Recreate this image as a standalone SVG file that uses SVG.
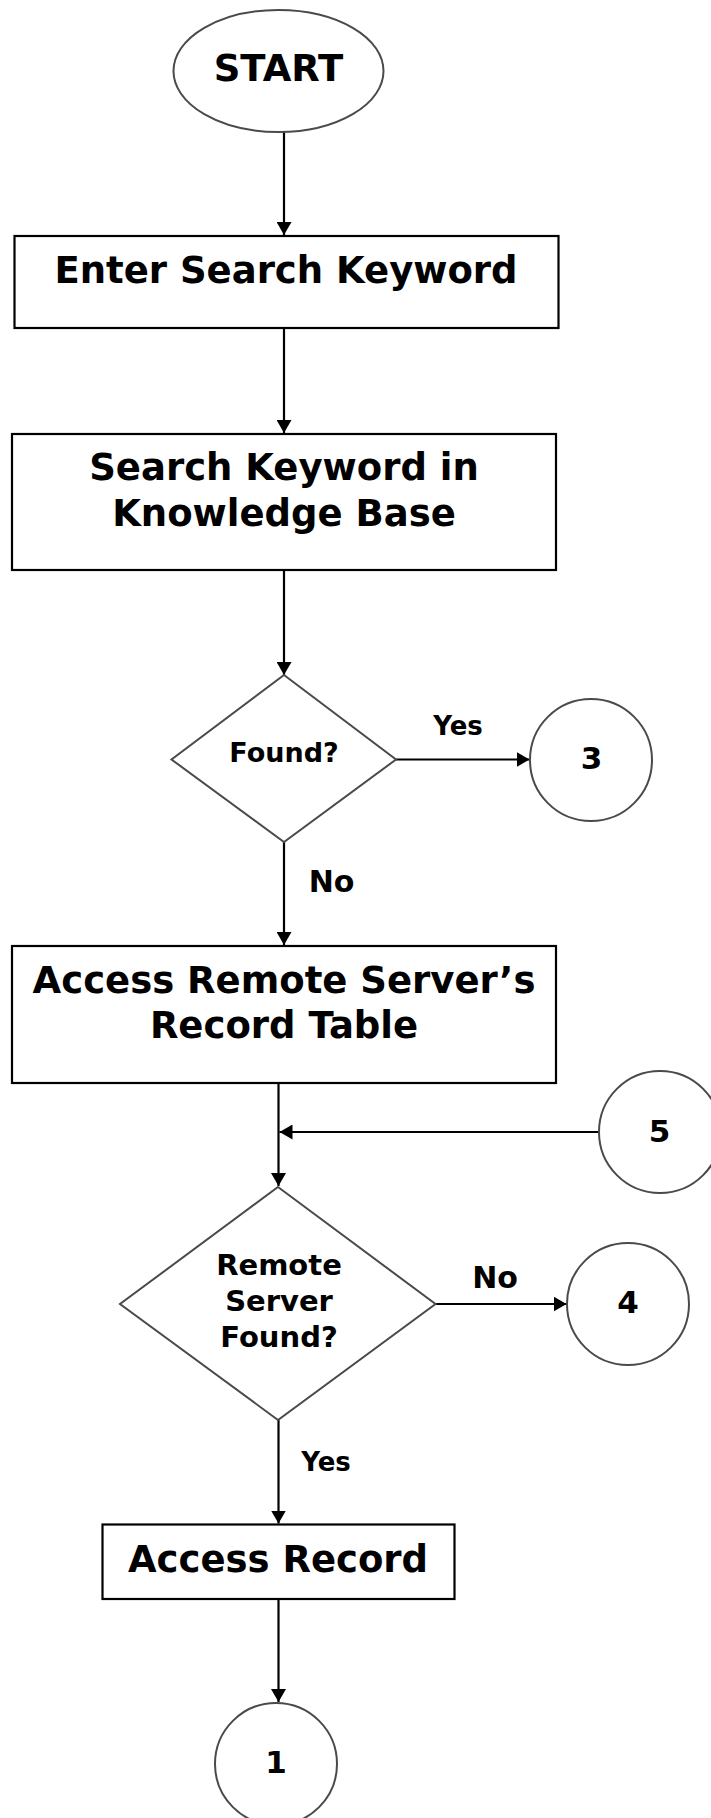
<svg xmlns="http://www.w3.org/2000/svg" width="711" height="1818" viewBox="0 0 711 1818">
<style>
.box{fill:#fff;stroke:#000;stroke-width:2.2}
.gray{fill:#fff;stroke:#4a4a4a;stroke-width:2}
.conn{fill:none;stroke:#000;stroke-width:2.2}
text{font-family:"DejaVu Sans","Verdana",sans-serif;font-weight:bold;fill:#000;text-anchor:middle}
.big{font-size:37px}
.mid{font-size:29px}
.lbl{font-size:26px}
.no{font-size:30px}
.num{font-size:31px}
</style>
<defs>
<marker id="arr" markerUnits="userSpaceOnUse" markerWidth="15" markerHeight="15" refX="13" refY="7.5" orient="auto">
<path d="M0,0 L13,7.5 L0,15 z" fill="#000"/>
</marker>
</defs>
<rect width="711" height="1818" fill="#fff"/>
<g id="connectors">
<line class="conn" x1="284" y1="132" x2="284" y2="235" marker-end="url(#arr)"/>
<line class="conn" x1="284" y1="328" x2="284" y2="433" marker-end="url(#arr)"/>
<line class="conn" x1="284" y1="570" x2="284" y2="675" marker-end="url(#arr)"/>
<line class="conn" x1="396" y1="759.5" x2="529.5" y2="759.5" marker-end="url(#arr)"/>
<line class="conn" x1="284" y1="842" x2="284" y2="945" marker-end="url(#arr)"/>
<line class="conn" x1="278.5" y1="1083" x2="278.5" y2="1186" marker-end="url(#arr)"/>
<line class="conn" x1="599" y1="1132" x2="279.5" y2="1132" marker-end="url(#arr)"/>
<line class="conn" x1="435.5" y1="1304" x2="566.5" y2="1304" marker-end="url(#arr)"/>
<line class="conn" x1="278.5" y1="1420" x2="278.5" y2="1523.5" marker-end="url(#arr)"/>
<line class="conn" x1="278.5" y1="1599" x2="278.5" y2="1702" marker-end="url(#arr)"/>
<text class="lbl" x="458" y="735">Yes</text>
<text class="no" x="331.5" y="891.5">No</text>
<text class="no" x="495" y="1287.5">No</text>
<text class="lbl" x="326" y="1471">Yes</text>
</g>
<g id="start">
<ellipse class="gray" cx="278.5" cy="71" rx="105" ry="61"/>
<text class="big" x="278.5" y="81">START</text>
</g>
<g id="enter">
<rect class="box" x="14.5" y="236" width="544" height="92"/>
<text class="big" x="286" y="283">Enter Search Keyword</text>
</g>
<g id="search">
<rect class="box" x="12" y="434" width="544" height="136"/>
<text class="big" x="284" y="480">Search Keyword in</text>
<text class="big" x="284" y="526">Knowledge Base</text>
</g>
<g id="found">
<polygon class="gray" points="284,675 396,759.5 284,842 171.5,759.5"/>
<text style="font-size:27px" x="284" y="761.5">Found?</text>
</g>
<g id="c3">
<circle class="gray" cx="591" cy="760" r="61"/>
<text class="num" x="591.5" y="768.5">3</text>
</g>
<g id="access-table">
<rect class="box" x="12" y="946" width="544" height="137"/>
<text class="big" x="284" y="993">Access Remote Server’s</text>
<text class="big" x="284" y="1038">Record Table</text>
</g>
<g id="c5">
<circle class="gray" cx="660" cy="1132" r="61"/>
<text class="num" x="659.5" y="1141.5">5</text>
</g>
<g id="remote-found">
<polygon class="gray" points="278,1187 435.5,1304 278,1420 120,1304"/>
<text class="mid" x="279" y="1275">Remote</text>
<text class="mid" x="279" y="1310.5">Server</text>
<text class="mid" x="279" y="1346.5">Found?</text>
</g>
<g id="c4">
<circle class="gray" cx="628" cy="1304" r="61"/>
<text class="num" x="628" y="1313">4</text>
</g>
<g id="access-record">
<rect class="box" x="102.5" y="1524.5" width="352" height="74.5"/>
<text class="big" x="278" y="1571.5">Access Record</text>
</g>
<g id="c1">
<circle class="gray" cx="276" cy="1764" r="61"/>
<text class="num" x="276" y="1772.5">1</text>
</g>
</svg>
